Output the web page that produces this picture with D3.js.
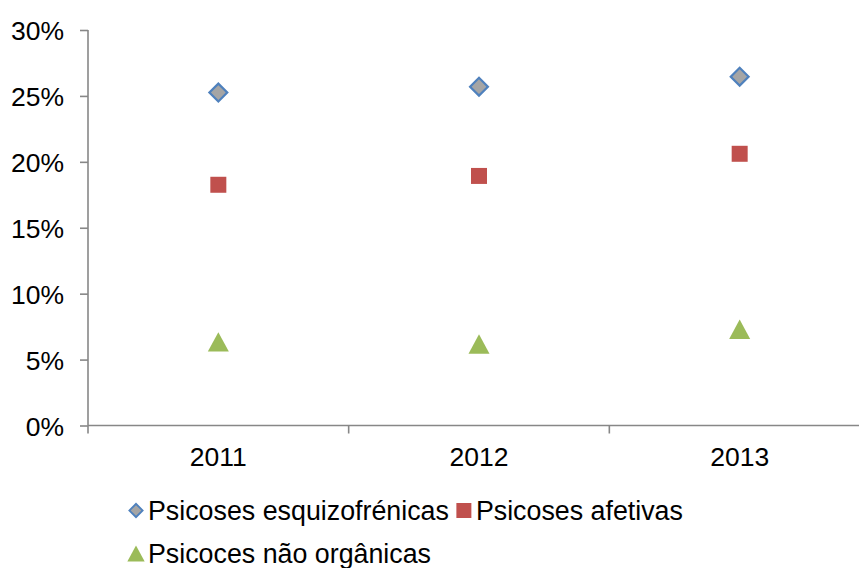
<!DOCTYPE html>
<html>
<head>
<meta charset="utf-8">
<script src="https://cdn.jsdelivr.net/npm/d3@7"></script>
<style>
  html, body { margin: 0; padding: 0; background: #fff; }
  svg { display: block; font-family: "Liberation Sans", Arial, sans-serif; }
</style>
</head>
<body>
<svg id="chart" width="859" height="568"></svg>
<script>
// Share of admissions by diagnosis group, per year
const years = ["2011", "2012", "2013"];
const esquizofrenicas = [0.2525, 0.257, 0.2646];
const afetivas = [0.1826, 0.1893, 0.2061];
const naoOrganicas = [0.0634, 0.0618, 0.073];
const yTicks = [0, 0.05, 0.10, 0.15, 0.20, 0.25, 0.30];
const seriesNames = ["Psicoses esquizofrénicas", "Psicoses afetivas", "Psicoces não orgânicas"];

const svg = d3.select("#chart");
const axisColor = "#878787";
const fontSize = "26.5px";

const x = d3.scaleBand().domain(years).range([88, 870]);
const y = d3.scaleLinear().domain([0, 0.30]).range([425.5, 30]);

// Triangle with apex up, centred on its bounding box
const triangleBox = {
  draw(ctx, size) {
    const w = Math.sqrt(size), h = w * 0.92;
    ctx.moveTo(0, -h / 2);
    ctx.lineTo(w / 2, h / 2);
    ctx.lineTo(-w / 2, h / 2);
    ctx.closePath();
  }
};

const series = [
  { name: seriesNames[0], values: esquizofrenicas, type: d3.symbolSquare, size: 160, legendSize: 88,
    rotate: 45, fill: "#A5A5A5", stroke: "#4F81BD", strokeWidth: 2.2 },
  { name: seriesNames[1], values: afetivas, type: d3.symbolSquare, size: 256, legendSize: 225,
    rotate: 0, fill: "#C0504D", stroke: "none", strokeWidth: 0 },
  { name: seriesNames[2], values: naoOrganicas, type: triangleBox, size: 441, legendSize: 300,
    rotate: 0, fill: "#9BBB59", stroke: "none", strokeWidth: 0 }
];

// Y axis
const yAxis = d3.axisLeft(y).tickValues(yTicks).tickFormat(d3.format(".0%")).tickSize(8).tickPadding(16);
const gy = svg.append("g").attr("transform", "translate(88,0)").call(yAxis);
gy.select(".domain").attr("stroke", axisColor).attr("stroke-width", 1.6).attr("d", `M0,${y(0.30)}V${y(0)}`);
gy.selectAll(".tick line").attr("stroke", axisColor).attr("stroke-width", 1.6);
gy.selectAll(".tick text").attr("fill", "#000").style("font-size", fontSize).attr("dy", "0.36em");

// X axis: labels centred in bands, ticks on the band edges
const xAxis = d3.axisBottom(x).tickSize(0).tickPadding(40);
const gx = svg.append("g").attr("transform", `translate(0,${y(0)})`).call(xAxis);
gx.select(".domain").attr("stroke", axisColor).attr("stroke-width", 1.6).attr("d", `M88,0H870`);
gx.selectAll(".tick text").attr("fill", "#000").style("font-size", fontSize).attr("dy", "0");
const edges = years.map(d => x(d)).concat([x(years[years.length - 1]) + x.bandwidth()]);
gx.selectAll(".edge").data(edges).join("line")
  .attr("class", "edge")
  .attr("x1", d => d).attr("x2", d => d)
  .attr("y1", 0).attr("y2", 8)
  .attr("stroke", axisColor).attr("stroke-width", 1.6);

// Markers
series.forEach(s => {
  const sym = d3.symbol().type(s.type).size(s.size);
  svg.append("g").selectAll("path").data(s.values.map((v, i) => ({ year: years[i], v })))
    .join("path")
    .attr("d", sym)
    .attr("transform", d => `translate(${x(d.year) + x.bandwidth() / 2},${y(d.v)}) rotate(${s.rotate})`)
    .attr("fill", s.fill)
    .attr("stroke", s.stroke)
    .attr("stroke-width", s.strokeWidth);
});

// Legend, flowing left to right and wrapping
const legend = svg.append("g").style("font-size", "26.8px");
const startX = 128, maxX = 720, rowH = 43;
let cx = startX, row = 0;
series.forEach(s => {
  const item = legend.append("g");
  const txt = item.append("text").attr("x", 20).attr("y", 0).attr("dy", "0.35em").attr("fill", "#000").text(s.name);
  const w = 20 + txt.node().getComputedTextLength();
  if (cx + w > maxX && cx > startX) { cx = startX; row += 1; }
  item.attr("transform", `translate(${cx},${510.5 + row * rowH})`);
  item.insert("path", "text")
    .attr("d", d3.symbol().type(s.type).size(s.legendSize))
    .attr("transform", `translate(8,0) rotate(${s.rotate})`)
    .attr("fill", s.fill)
    .attr("stroke", s.stroke)
    .attr("stroke-width", s.strokeWidth ? 1.8 : 0);
  cx += w + 7;
});
</script>
</body>
</html>
